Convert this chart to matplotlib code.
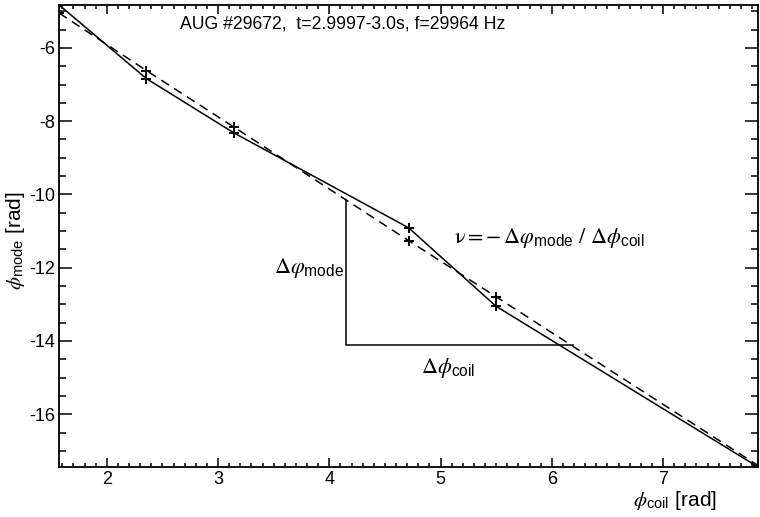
import numpy as np
import matplotlib
matplotlib.use("Agg")
import matplotlib.pyplot as plt
from matplotlib.ticker import MultipleLocator

plt.rcParams['font.family'] = ['Liberation Sans', 'DejaVu Sans']
plt.rcParams['axes.unicode_minus'] = False
plt.rcParams['mathtext.fontset'] = 'custom'
plt.rcParams['mathtext.rm'] = 'STIXGeneral'
plt.rcParams['mathtext.it'] = 'STIXGeneral:italic'
plt.rcParams['mathtext.sf'] = 'Liberation Sans'

# Coil toroidal positions and measured / fitted mode phases
phi_coil = np.array([0.5, 0.75, 1.0, 1.5, 1.75, 2.5]) * np.pi
phase_meas = [-4.83, -6.84, -8.32, -10.91, -13.05, -17.44]
phase_fit = [-5.05, -6.62, -8.16, -11.26, -12.79, -17.40]

# Slope triangle corners
tri_x = [4.15, 4.15, 6.19]
tri_y = [-10.15, -14.11, -14.11]

title_text = 'AUG #29672,  t=2.9997-3.0s, f=29964 Hz'

fig = plt.figure(figsize=(7.6, 5.17), dpi=100)
ax = fig.add_axes([0.0778, 0.0967, 0.9196, 0.8936])

ax.plot(phi_coil, phase_meas, '-', color='black', lw=1.1,
        marker='+', ms=6.5, mew=1.4)
ax.plot(phi_coil, phase_fit, '--', color='black', lw=1.1, dashes=(6, 4),
        marker='+', ms=6.5, mew=1.4)
ax.plot(tri_x, tri_y, '-', color='black', lw=1.1)

ax.set_xlim(phi_coil[0], phi_coil[-1])
ax.set_ylim(min(phase_meas), max(phase_meas))

ax.xaxis.set_major_locator(MultipleLocator(1))
ax.xaxis.set_minor_locator(MultipleLocator(0.1))
ax.yaxis.set_major_locator(MultipleLocator(2))
ax.yaxis.set_minor_locator(MultipleLocator(0.5))
ax.tick_params(axis='both', which='both', direction='in',
               top=True, right=True, labelsize=13, width=1.1)
ax.tick_params(axis='x', which='major', length=6.5, pad=3)
ax.tick_params(axis='x', which='minor', length=3.2)
ax.tick_params(axis='y', which='major', length=9.5, pad=3)
ax.tick_params(axis='y', which='minor', length=4.8)
for s in ax.spines.values():
    s.set_linewidth(1.3)

ax.text(2.66, -5.36, title_text, fontsize=12.7, ha='left', va='center')
ax.text(4.13, -12.0, r'$\Delta\varphi_{\mathsf{mode}}$', fontsize=16,
        ha='right', va='center')
ax.text(5.07, -14.75, r'$\Delta\phi_{\mathsf{coil}}$', fontsize=16,
        ha='center', va='center')
ax.text(5.12, -11.18,
        r'$\mathrm{\nu} = -\,\Delta\varphi_{\mathsf{mode}}\ /\ \Delta\phi_{\mathsf{coil}}$',
        fontsize=16, ha='left', va='center')

ax.set_xlabel(r'$\phi_{\mathsf{coil}}$ [rad]', fontsize=15)
ax.xaxis.set_label_coords(0.881, -0.048)
ax.set_ylabel(r'$\phi_{\mathsf{mode}}$ [rad]', fontsize=15)
ax.yaxis.set_label_coords(-0.046, 0.49)

fig.savefig('out.png', dpi=100)
